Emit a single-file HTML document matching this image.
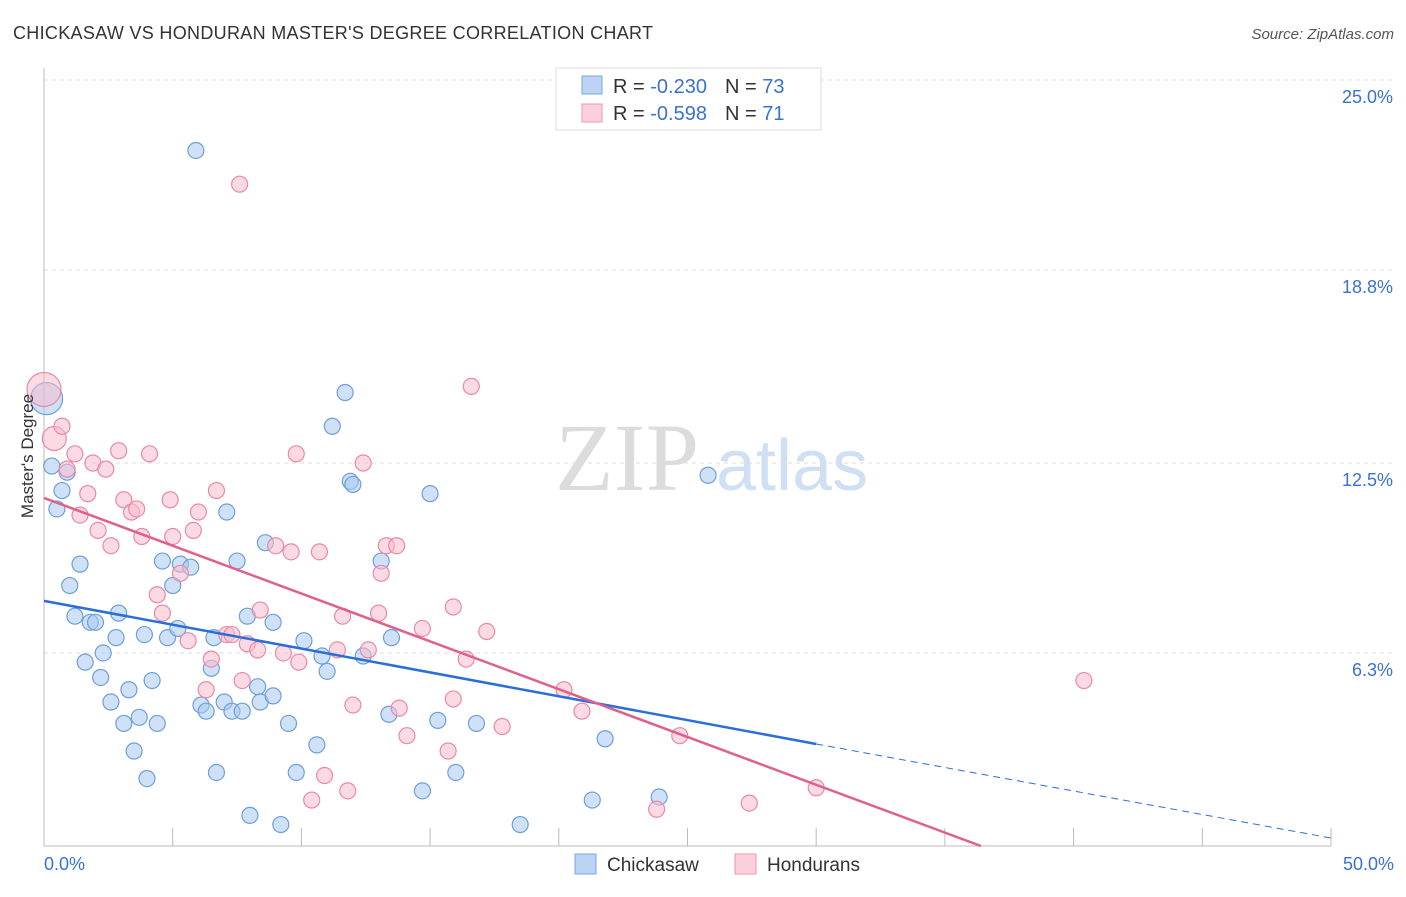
<!DOCTYPE html>
<html><head><meta charset="utf-8"><style>
body{margin:0;background:#fff;font-family:"Liberation Sans",sans-serif}
</style></head><body>
<svg id="chart" width="1406" height="892" xmlns="http://www.w3.org/2000/svg" style="font-family:'Liberation Sans',sans-serif">
<text x="13" y="39" font-size="18" fill="#333" textLength="640">CHICKASAW VS HONDURAN MASTER'S DEGREE CORRELATION CHART</text>
<text x="1394" y="39" font-size="15" fill="#555" text-anchor="end" font-style="italic">Source: ZipAtlas.com</text>
<g>
<text x="555" y="490" font-size="96" fill="#dcdcdc" font-family="Liberation Serif,serif">ZIP</text>
<text x="716" y="490" font-size="72" fill="#cfe0f4">atlas</text>
</g>
<g id="grid"></g>
<g id="axes"></g>
<g id="marks"></g>
<g id="lines"></g>
<text transform="translate(33,456) rotate(-90)" font-size="17" fill="#333" text-anchor="middle">Master's Degree</text>
<g>
<rect x="556" y="68" width="265" height="62" fill="#fff" stroke="#ddd"/>
<rect x="582" y="76" width="20" height="18" fill="#bcd4f4" stroke="#7aa6e0"/>
<rect x="582" y="104" width="20" height="18" fill="#fccfdc" stroke="#ea9ab2"/>
<text x="613" y="93" font-size="20" fill="#333">R = <tspan fill="#3a72d0">-0.230</tspan><tspan dx="18">N = </tspan><tspan fill="#3a72d0">73</tspan></text>
<text x="613" y="120" font-size="20" fill="#333">R = <tspan fill="#3a72d0">-0.598</tspan><tspan dx="18">N = </tspan><tspan fill="#3a72d0"> 71</tspan></text>
</g>
<g>
<rect x="575" y="854" width="21" height="20" fill="#bcd4f4" stroke="#7aa6e0"/>
<text x="607" y="871" font-size="19" fill="#333">Chickasaw</text>
<rect x="735" y="854" width="21" height="20" fill="#fccfdc" stroke="#ea9ab2"/>
<text x="767" y="871" font-size="19" fill="#333">Hondurans</text>
</g>
</svg>
<script>
const blueX=[5.9,0.1,0.3,0.9,0.7,0.5,1.4,1.0,1.2,1.8,2.0,2.9,2.8,2.3,1.6,2.2,3.3,2.6,3.1,3.7,4.4,4.2,3.5,4.0,3.9,4.8,5.2,4.6,5.0,5.3,5.7,6.6,6.5,6.1,6.3,6.7,7.1,7.5,7.0,7.3,7.7,7.9,8.3,8.4,8.9,8.0,9.2,8.6,8.9,9.5,9.8,10.1,10.8,11.0,10.6,11.2,11.7,11.9,12.0,12.4,13.1,13.5,13.4,15.0,14.7,15.3,16.0,16.8,18.5,21.3,21.8,23.9,25.8];
const blueY=[22.7,14.6,12.4,12.2,11.6,11.0,9.2,8.5,7.5,7.3,7.3,7.6,6.8,6.3,6.0,5.5,5.1,4.7,4.0,4.2,4.0,5.4,3.1,2.2,6.9,6.8,7.1,9.3,8.5,9.2,9.1,6.8,5.8,4.6,4.4,2.4,10.9,9.3,4.7,4.4,4.4,7.5,5.2,4.7,4.9,1.0,0.7,9.9,7.3,4.0,2.4,6.7,6.2,5.7,3.3,13.7,14.8,11.9,11.8,6.2,9.3,6.8,4.3,11.5,1.8,4.1,2.4,4.0,0.7,1.5,3.5,1.6,12.1];
const pinkX=[0,0.4,0.7,0.9,1.2,1.9,2.4,1.7,1.4,2.1,2.6,2.9,4.1,3.1,3.4,3.6,3.8,4.9,5.0,4.4,4.6,5.3,5.8,6.0,6.7,5.6,6.5,6.3,7.1,7.3,7.6,7.7,7.9,8.3,8.4,9.0,9.6,9.3,9.9,9.8,10.7,10.4,10.9,11.6,11.4,11.8,12.0,12.4,12.6,13.0,13.1,13.3,13.7,13.8,14.1,14.7,15.7,15.9,15.9,16.4,16.6,17.2,17.8,20.2,20.9,24.7,23.8,27.4,30.0,40.4];
const pinkY=[14.9,13.3,13.7,12.3,12.8,12.5,12.3,11.5,10.8,10.3,9.8,12.9,12.8,11.3,10.9,11.0,10.1,11.3,10.1,8.2,7.6,8.9,10.3,10.9,11.6,6.7,6.1,5.1,6.9,6.9,21.6,5.4,6.6,6.4,7.7,9.8,9.6,6.3,6.0,12.8,9.6,1.5,2.3,7.5,6.4,1.8,4.6,12.5,6.4,7.6,8.9,9.8,9.8,4.5,3.6,7.1,3.1,7.8,4.8,6.1,15.0,7.0,3.9,5.1,4.4,3.6,1.2,1.4,1.9,5.4];
const yTicks=[25.0,18.8,12.5,6.3];
const yTickLabels=["25.0%","18.8%","12.5%","6.3%"];
const xTicks=[0,5,10,15,20,25,30,35,40,45,50];
const blueTrend=[8.0,3.33,0.26];
const pinkTrend=[11.36,36.4];
const sx=v=>44+v*25.74, sy=v=>846-v*30.64;
const NS="http://www.w3.org/2000/svg";
function mk(tag,attrs,parent){const e=document.createElementNS(NS,tag);for(const k in attrs)e.setAttribute(k,attrs[k]);document.getElementById(parent).appendChild(e);return e;}
yTicks.forEach((t,i)=>{
 const g=mk('line',{x1:44,x2:1394,y1:sy(t),y2:sy(t),stroke:'#ddd','stroke-dasharray':'4,4'},'grid');
 
 
 const tx=mk('text',{x:1393,y:sy(t)+23,'font-size':18,fill:'#3a72d0','text-anchor':'end'},'axes');
 tx.textContent=yTickLabels[i];
 
 
});
const ax=mk('line',{x1:44,x2:44,y1:68,y2:846,stroke:'#bbb'},'axes');


const bx=mk('line',{x1:44,x2:1331,y1:846,y2:846,stroke:'#bbb'},'axes');


xTicks.forEach(t=>{const l=mk('line',{x1:sx(t),x2:sx(t),y1:828,y2:846,stroke:'#bbb'},'axes');
 
 });
[["0.0%",44,"start"],["50.0%",1394,"end"]].forEach(a=>{const t=mk('text',{x:a[1],y:870,'font-size':18,fill:'#3a72d0','text-anchor':a[2]},'axes');t.textContent=a[0];
 
 });
function pts(X,Y,fill,stroke,name,big){X.forEach((x,i)=>{const r=big[i]||8;const c=mk('circle',{cx:sx(x),cy:sy(Y[i]),r:r,fill:fill,'fill-opacity':0.55,stroke:stroke,'stroke-width':1.2},'marks');
 
 });}
pts(blueX,blueY,'#a8c8f0','#6e9fd9','blue-point',{1:16});
pts(pinkX,pinkY,'#f7bccd','#e88aa6','pink-point',{0:17,1:12});
const b1=mk('line',{x1:sx(0),y1:sy(blueTrend[0]),x2:sx(30),y2:sy(blueTrend[1]),stroke:'#2a6fd6','stroke-width':2.5},'lines');


const b2=mk('line',{x1:sx(30),y1:sy(blueTrend[1]),x2:sx(50),y2:sy(blueTrend[2]),stroke:'#2a6fd6','stroke-width':1,'stroke-dasharray':'7,5'},'lines');


const p1=mk('line',{x1:sx(0),y1:sy(pinkTrend[0]),x2:sx(pinkTrend[1]),y2:sy(0),stroke:'#e0608c','stroke-width':2.5},'lines');


</script>
</body></html>
